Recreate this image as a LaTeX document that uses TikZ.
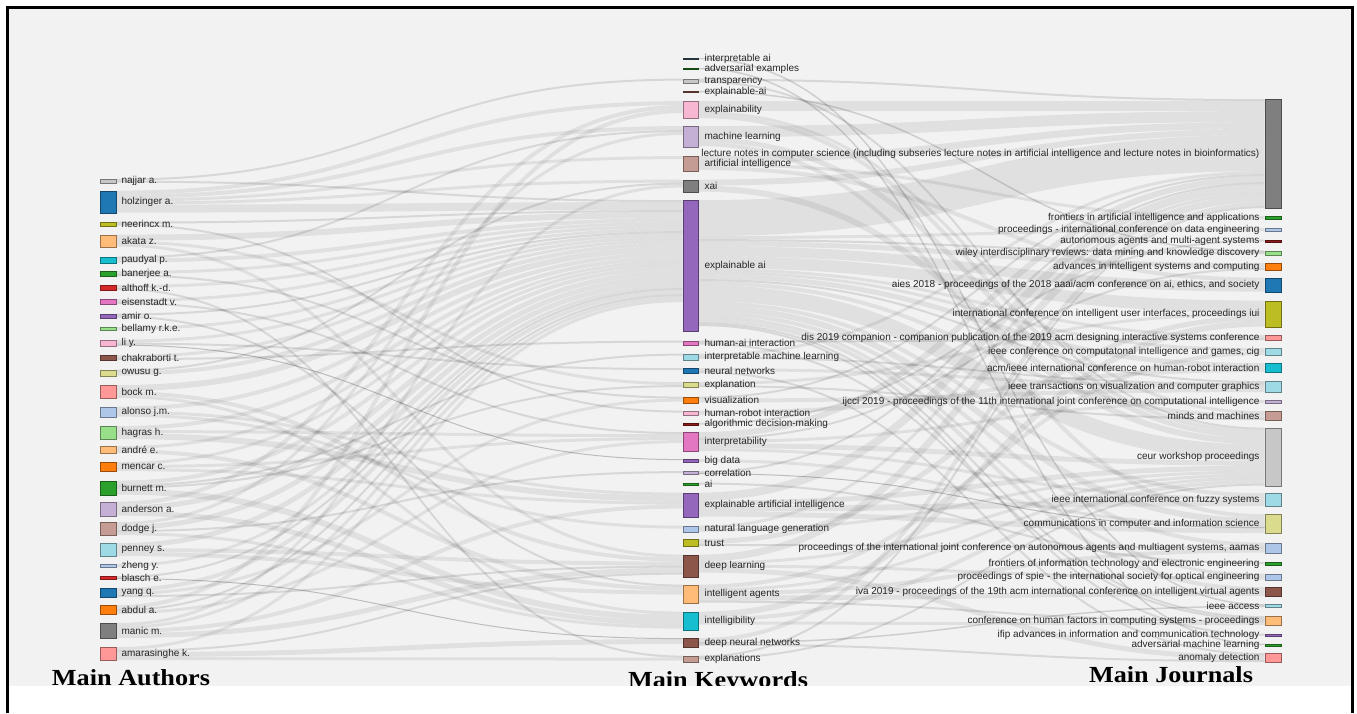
\documentclass[tikz,border=0pt]{standalone}
\usepackage{fontspec}
\setmainfont{Liberation Sans}
\newfontfamily\titlefont{Liberation Serif}
\usepackage{graphicx}
\usetikzlibrary{positioning}

\definecolor{tblue}{HTML}{1F77B4}
\definecolor{tlblue}{HTML}{AEC7E8}
\definecolor{torange}{HTML}{FF7F0E}
\definecolor{tlorange}{HTML}{FFBB78}
\definecolor{tgreen}{HTML}{2CA02C}
\definecolor{tlgreen}{HTML}{98DF8A}
\definecolor{tred}{HTML}{D62728}
\definecolor{tlred}{HTML}{FF9896}
\definecolor{tpurple}{HTML}{9467BD}
\definecolor{tlpurple}{HTML}{C5B0D5}
\definecolor{tbrown}{HTML}{8C564B}
\definecolor{tlbrown}{HTML}{C49C94}
\definecolor{tpink}{HTML}{E377C2}
\definecolor{tlpink}{HTML}{F7B6D2}
\definecolor{tgray}{HTML}{7F7F7F}
\definecolor{tlgray}{HTML}{C7C7C7}
\definecolor{tolive}{HTML}{BCBD22}
\definecolor{tlolive}{HTML}{DBDB8D}
\definecolor{tcyan}{HTML}{17BECF}
\definecolor{tlcyan}{HTML}{9EDAE5}
\definecolor{tslate}{HTML}{3E5560}
\definecolor{tdgreen}{HTML}{237A23}
\definecolor{tdred}{HTML}{8E1B1B}
\definecolor{plotbg}{HTML}{F2F2F2}

\pgfdeclarelayer{background}
\pgfsetlayers{background,main}

\tikzset{
  box/.style={draw=#1!60!black, fill=#1, line width=0.8pt, inner sep=0pt, minimum width=16pt},
  lbl/.style={font=\fontsize{10}{12}\selectfont, text=black!85, inner sep=0pt},
  heading/.style={font=\titlefont\bfseries\fontsize{23}{26}\selectfont, anchor=base, inner sep=0pt},
  band/.style={draw=black, line width=#1pt},
}

% one link, stacked on the running offsets of both ends
\newcommand\linkflow[3]{%
  \ifcsname out@#1\endcsname\else\expandafter\gdef\csname out@#1\endcsname{0}\fi
  \ifcsname in@#2\endcsname\else\expandafter\gdef\csname in@#2\endcsname{0}\fi
  \pgfmathsetmacro\ya{\csname out@#1\endcsname+#3/2}%
  \pgfmathsetmacro\yb{\csname in@#2\endcsname+#3/2}%
  \pgfmathsetmacro\op{max(0.07,0.22/#3)}%
  \draw[band=#3, opacity=\op] ([yshift=-\ya pt]#1.north east) .. controls +(283,0) and +(-283,0) .. ([yshift=-\yb pt]#2.north west);
  \pgfmathsetmacro\ya{\csname out@#1\endcsname+#3}%
  \expandafter\xdef\csname out@#1\endcsname{\ya}%
  \pgfmathsetmacro\yb{\csname in@#2\endcsname+#3}%
  \expandafter\xdef\csname in@#2\endcsname{\yb}%
}

\begin{document}
\begin{tikzpicture}[x=1pt,y=-1pt]
    \useasboundingbox (0,0) rectangle (1357,713);
    \begin{pgfonlayer}{background}
        \fill[white] (0,0) rectangle (1357,713);
        \fill[plotbg] (9,9) rectangle (1351,686);
    \end{pgfonlayer}

    % Authors
    \foreach \nm/\yy/\hh/\cl/\tx in {
        najjar/181/4/tlgray/najjar a.,
        holzinger/202/22/tblue/holzinger a.,
        neerincx/224/4/tolive/neerincx m.,
        akata/241/12/tlorange/akata z.,
        paudyal/260/6/tcyan/paudyal p.,
        banerjee/274/5/tgreen/banerjee a.,
        althoff/288/5/tred/althoff k.-d.,
        eisenstadt/302/5/tpink/eisenstadt v.,
        amir/316/4/tpurple/amir o.,
        bellamy/329/3/tlgreen/bellamy r.k.e.,
        liy/343/6/tlpink/li y.,
        chakraborti/358/5/tbrown/chakraborti t.,
        owusu/373/6/tlolive/owusu g.,
        bock/392/13/tlred/bock m.,
        alonso/412/10/tlblue/alonso j.m.,
        hagras/433/13/tlgreen/hagras h.,
        andre/450/7/tlorange/andré e.,
        mencar/467/9/torange/mencar c.,
        burnett/488/14/tgreen/burnett m.,
        anderson/509/14/tlpurple/anderson a.,
        dodge/529/13/tlbrown/dodge j.,
        penney/550/13/tlcyan/penney s.,
        zheng/566/3/tlblue/zheng y.,
        blasch/578/3/tred/blasch e.,
        yang/593/9/tblue/yang q.,
        abdul/610/9/torange/abdul a.,
        manic/631/15/tgray/manic m.,
        amarasinghe/654/13/tlred/amarasinghe k.}{
        \node[box=\cl, minimum height=\hh pt] (\nm) at (108,\yy) {};
        \node[lbl, right=5pt of \nm] (\nm-t) {\tx};
    }

    % Keywords
    \foreach \nm/\yy/\hh/\cl/\tx in {
        iai/59/1.5/tslate/interpretable ai,
        advex/69/1.5/tdgreen/adversarial examples,
        transp/81/4/tlgray/transparency,
        exaih/92/1.5/tbrown/explainable-ai,
        expl/110/17/tlpink/explainability,
        ml/137/21/tlpurple/machine learning,
        artint/164/15/tlbrown/artificial intelligence,
        xai/186/12/tgray/xai,
        explai/266/131/tpurple/explainable ai,
        hai/343/4/tpink/human-ai interaction,
        iml/357/6/tlcyan/interpretable machine learning,
        nn/371/5/tblue/neural networks,
        expn/385/5/tlolive/explanation,
        vis/400/6/torange/visualization,
        hri/413/4/tlpink/human-robot interaction,
        adm/424/2/tdred/algorithmic decision-making,
        interp/442/19/tpink/interpretability,
        bigdata/461/3/tpurple/big data,
        corr/473/3/tlpurple/correlation,
        ai/484/2/tgreen/ai,
        eaint/505/24/tpurple/explainable artificial intelligence,
        nlg/529/6/tlblue/natural language generation,
        trust/543/7/tolive/trust,
        dl/566/22/tbrown/deep learning,
        ia/594/18/tlorange/intelligent agents,
        intel/621/18/tcyan/intelligibility,
        dnn/643/9/tbrown/deep neural networks,
        expns/659/6/tlbrown/explanations}{
        \node[box=\cl, minimum width=15pt, minimum height=\hh pt] (\nm) at (690.5,\yy) {};
        \node[lbl, right=6pt of \nm] (\nm-t) {\tx};
    }

    % Journals
    \foreach \nm/\yy/\hh/\cl/\tx in {
        lncs/154/109/tgray/lecture notes in computer science (including subseries lecture notes in artificial intelligence and lecture notes in bioinformatics),
        fiaa/218/3/tgreen/frontiers in artificial intelligence and applications,
        icde/230/3/tlblue/proceedings - international conference on data engineering,
        aamsys/241/2/tdred/autonomous agents and multi-agent systems,
        wiley/253/4/tlgreen/wiley interdisciplinary reviews: data mining and knowledge discovery,
        aisc/267/7/torange/advances in intelligent systems and computing,
        aies/285/14/tblue/{aies 2018 - proceedings of the 2018 aaai/acm conference on ai, ethics, and society},
        iui/314/26/tolive/{international conference on intelligent user interfaces, proceedings iui},
        dis/338/5/tlred/dis 2019 companion - companion publication of the 2019 acm designing interactive systems conference,
        cig/352/7/tlcyan/{ieee conference on computatonal intelligence and games, cig},
        jhri/368/9/tcyan/{acm/ieee international conference on human-robot interaction},
        tvcg/387/11/tlcyan/ieee transactions on visualization and computer graphics,
        ijcci/402/3/tlpurple/ijcci 2019 - proceedings of the 11th international joint conference on computational intelligence,
        minds/416/9/tlbrown/minds and machines,
        ceur/457/58/tlgray/ceur workshop proceedings,
        fuzzy/500/13/tlcyan/ieee international conference on fuzzy systems,
        ccis/524/19/tlolive/communications in computer and information science,
        aamas/548/10/tlblue/{proceedings of the international joint conference on autonomous agents and multiagent systems, aamas},
        fitee/564/3/tgreen/frontiers of information technology and electronic engineering,
        spie/577/6/tlblue/proceedings of spie - the international society for optical engineering,
        iva/592/9/tbrown/iva 2019 - proceedings of the 19th acm international conference on intelligent virtual agents,
        access/606/3/tlcyan/ieee access,
        chi/621/9/tlorange/conference on human factors in computing systems - proceedings,
        ifip/635/2/tpurple/ifip advances in information and communication technology,
        advml/645/2/tgreen/adversarial machine learning,
        anomaly/658/9/tlred/anomaly detection}{
        \node[box=\cl, minimum height=\hh pt] (\nm) at (1273,\yy) {};
        \node[lbl, left=5pt of \nm] (\nm-t) {\tx};
    }

    % Links, behind the boxes
    \begin{pgfonlayer}{background}
    \foreach \src/\dst/\wdt in {
        najjar/transp/2, najjar/explai/2,
        holzinger/expl/4, holzinger/ml/4, holzinger/artint/3, holzinger/xai/3, holzinger/explai/8,
        neerincx/explai/2, neerincx/hri/2,
        akata/explai/6, akata/expn/3, akata/dl/3,
        paudyal/ml/2, paudyal/explai/4,
        banerjee/explai/3, banerjee/vis/2,
        althoff/explai/3, althoff/expns/2,
        eisenstadt/explai/3, eisenstadt/interp/2,
        amir/explai/2, amir/ia/2,
        bellamy/explai/3,
        liy/explai/3, liy/nn/2, liy/bigdata/1,
        chakraborti/explai/3, chakraborti/hai/2,
        owusu/xai/2, owusu/explai/4,
        bock/explai/6, bock/dl/4, bock/intel/3,
        alonso/explai/4, alonso/eaint/3, alonso/nlg/3,
        hagras/explai/4, hagras/interp/3, hagras/eaint/6,
        andre/explai/3, andre/ia/4,
        mencar/explai/3, mencar/interp/3, mencar/eaint/3,
        burnett/explai/4, burnett/iml/2, burnett/expn/2, burnett/intel/6,
        anderson/expl/4, anderson/explai/5, anderson/intel/5,
        dodge/ml/3, dodge/explai/5, dodge/corr/2, dodge/intel/3,
        penney/explai/5, penney/dl/4, penney/ia/4,
        zheng/explai/3,
        blasch/explai/2, blasch/dnn/1,
        yang/explai/4, yang/vis/3, yang/dl/2,
        abdul/expl/4, abdul/explai/2, abdul/interp/3,
        manic/xai/3, manic/explai/3, manic/eaint/4, manic/dl/5,
        amarasinghe/explai/3, amarasinghe/dl/2, amarasinghe/dnn/5, amarasinghe/expns/3}{
        \linkflow{\src}{\dst}{\wdt}
    }
    \foreach \src/\dst/\wdt in {
        iai/access/1.5,
        advex/advml/1.5,
        transp/lncs/2, transp/ceur/2,
        exaih/wiley/1.5,
        expl/lncs/10, expl/minds/3, expl/ceur/4,
        ml/lncs/11, ml/ceur/5, ml/ccis/4,
        artint/lncs/7, artint/fiaa/3, artint/aies/4,
        xai/lncs/6, xai/ceur/6,
        explai/lncs/36, explai/icde/3, explai/wiley/2, explai/aisc/5, explai/aies/10,
        explai/iui/12, explai/dis/3, explai/cig/3, explai/jhri/5, explai/tvcg/2,
        explai/minds/4, explai/ceur/16, explai/fuzzy/4, explai/ccis/6, explai/aamas/4,
        explai/spie/3, explai/iva/4, explai/chi/2, explai/ifip/2,
        hai/dis/2, hai/chi/2,
        iml/lncs/3, iml/tvcg/2,
        nn/tvcg/3, nn/anomaly/2,
        expn/iui/3, expn/minds/2,
        vis/lncs/2, vis/tvcg/4,
        hri/jhri/4,
        adm/aamsys/2,
        interp/lncs/6, interp/aisc/2, interp/ijcci/3, interp/ceur/5, interp/fuzzy/3,
        bigdata/ccis/3,
        corr/lncs/2, corr/ccis/1,
        ai/fitee/2,
        eaint/lncs/8, eaint/ceur/5, eaint/fuzzy/6, eaint/ccis/5,
        nlg/lncs/3, nlg/ceur/3,
        trust/iui/5, trust/aamas/2,
        dl/lncs/7, dl/ceur/3, dl/spie/3, dl/anomaly/5,
        ia/cig/4, ia/ceur/3, ia/aamas/4, ia/iva/5, ia/chi/2,
        intel/iui/6, intel/ceur/4, intel/chi/3,
        dnn/lncs/4, dnn/access/1.5, dnn/anomaly/2,
        expns/lncs/2, expns/ceur/2}{
        \linkflow{\src}{\dst}{\wdt}
    }
    \end{pgfonlayer}

    % Titles
    \node[heading] (authors) at (131,685) {\scalebox{1.14}[1]{Main Authors}};
    \node[heading] (keywords) at (718,687) {\scalebox{1.14}[1]{Main Keywords}};
    \node[heading] (journals) at (1171,682) {\scalebox{1.14}[1]{Main Journals}};

    % Frame
    \fill[white] (9,686) rectangle (1351,713);
    \draw[line width=3pt] (7,713) -- (7,7) -- (1352,7) -- (1352,713);
\end{tikzpicture}
\end{document}
